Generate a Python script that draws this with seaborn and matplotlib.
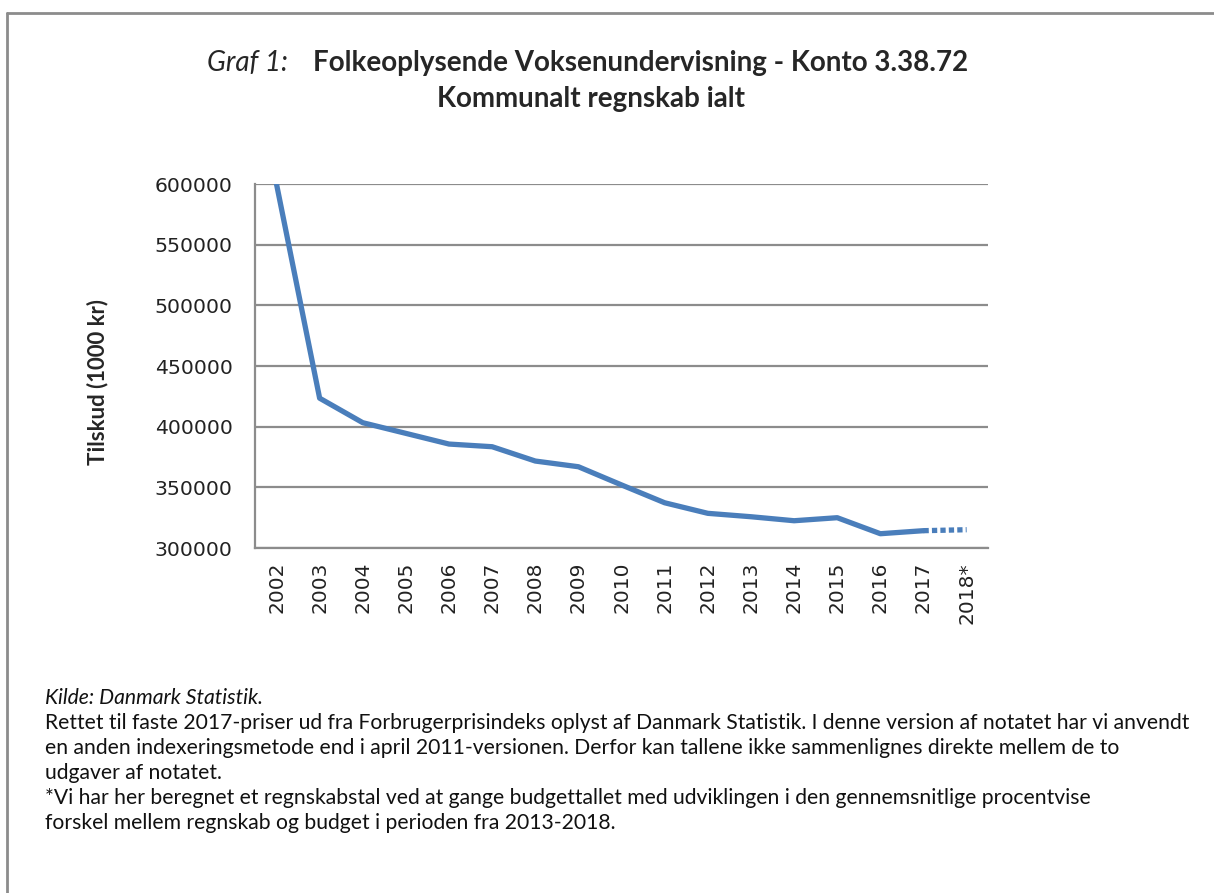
import numpy as np
import pandas as pd
import matplotlib.pyplot as plt
import seaborn as sns

# data
years = ["2002", "2003", "2004", "2005", "2006", "2007", "2008", "2009", "2010",
         "2011", "2012", "2013", "2014", "2015", "2016", "2017", "2018*"]
tilskud = [600000, 423500, 403300, 394500, 385700, 383500, 371700, 367000, 352000,
           337300, 328600, 325800, 322500, 325000, 311800, 314300, 315100]
y_ticks = [300000, 350000, 400000, 450000, 500000, 550000, 600000]

df = pd.DataFrame({"pos": range(len(years)), "aar": years, "tilskud": tilskud})
df_solid = df.iloc[:-1]
df_est = df.iloc[-2:]

sns.set_style("white")
plt.rcParams['font.family'] = ['DejaVu Sans']

blue = "#4A7EBB"
grey = "#8C8C8C"
txt_font = "Lato"

fig = plt.figure(figsize=(12.14, 8.93), dpi=100)
ax = fig.add_axes([0.210, 0.3863, 0.604, 0.4076])

sns.lineplot(data=df_solid, x="pos", y="tilskud", color=blue, linewidth=3.8, ax=ax)
sns.lineplot(data=df_est, x="pos", y="tilskud", color=blue, linewidth=3.8,
             linestyle=(0, (1.0, 0.6)), ax=ax)

ax.set_xlim(-0.5, len(years) - 0.5)
ax.set_ylim(300000, 600000)
ax.set_yticks(y_ticks)
ax.set_yticklabels([str(v) for v in y_ticks], fontsize=14.7, color="#222222")
ax.set_xticks(df["pos"])
ax.set_xticklabels(years, rotation=90, fontsize=14.5, color="#222222")
ax.yaxis.grid(True, color=grey, linewidth=1.6)
ax.set_axisbelow(True)
sns.despine(ax=ax, top=True, right=True)
for s in ["left", "bottom"]:
    ax.spines[s].set_color(grey)
    ax.spines[s].set_linewidth(1.6)
ax.tick_params(axis="y", length=0, pad=16)
ax.tick_params(axis="x", length=0, pad=10)
ax.set_xlabel("")
ax.set_ylabel("Tilskud (1000 kr)", fontsize=16, fontweight="bold", family=txt_font)
ax.yaxis.set_label_coords(-0.200, 0.455)

# titel
fig.text(0.1705, 0.930, "Graf 1:", fontsize=20, style="italic", family=txt_font,
         ha="left", va="center")
fig.text(0.258, 0.930, "Folkeoplysende Voksenundervisning - Konto 3.38.72",
         fontsize=20, fontweight="bold", family=txt_font, ha="left", va="center")
fig.text(0.487, 0.889, "Kommunalt regnskab ialt", fontsize=20, fontweight="bold",
         family=txt_font, ha="center", va="center")

# noter
noter = [
    "Rettet til faste 2017-priser ud fra Forbrugerprisindeks oplyst af Danmark Statistik. I denne version af notatet har vi anvendt",
    "en anden indexeringsmetode end i april 2011-versionen. Derfor kan tallene ikke sammenlignes direkte mellem de to",
    "udgaver af notatet.",
    "*Vi har her beregnet et regnskabstal ved at gange budgettallet med udviklingen i den gennemsnitlige procentvise",
    "forskel mellem regnskab og budget i perioden fra 2013-2018.",
]
y0 = 1 - 698 / 893
fig.text(0.037, y0, "Kilde: Danmark Statistik.", fontsize=15.2, style="italic",
         family=txt_font, va="center", color="#111111")
for i, linje in enumerate(noter):
    fig.text(0.037, y0 - (i + 1) * 25 / 893, linje, fontsize=15.2,
             family=txt_font, va="center", color="#111111")

# ramme
fig.add_artist(plt.Line2D([0.006, 1.0], [1 - 13 / 893] * 2, color=grey, linewidth=2,
                          transform=fig.transFigure))
fig.add_artist(plt.Line2D([0.006] * 2, [0.0, 1 - 13 / 893], color=grey, linewidth=2,
                          transform=fig.transFigure))

plt.savefig("out.png", dpi=100)
